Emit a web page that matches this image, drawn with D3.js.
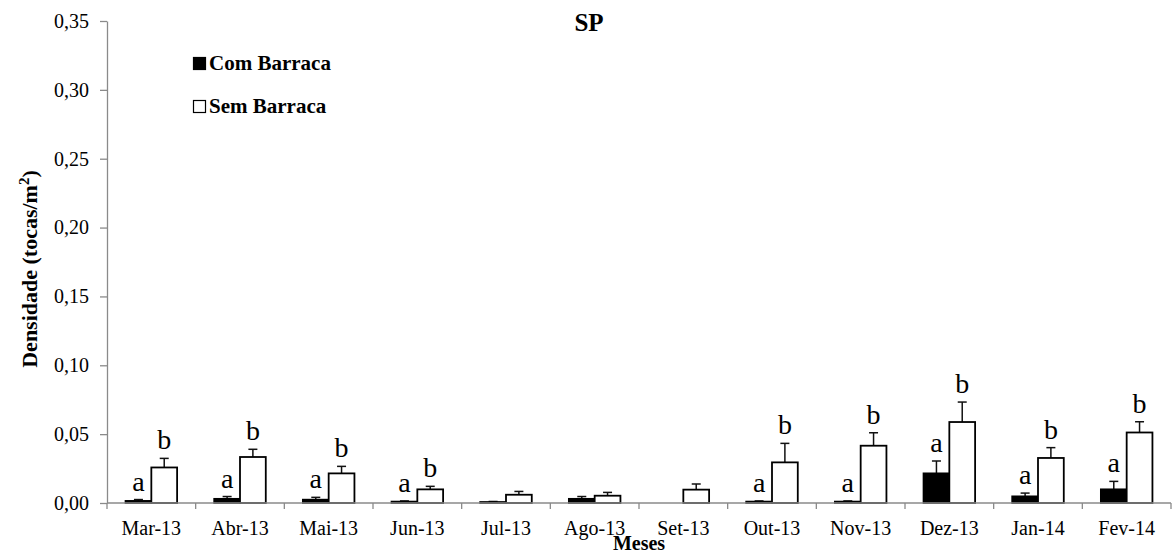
<!DOCTYPE html>
<html>
<head>
<meta charset="utf-8">
<script src="https://cdn.jsdelivr.net/npm/d3@7"></script>
<style>
	body { margin: 0; background: white; }
	text { font-family: "Liberation Serif", "Times New Roman", serif; }
</style>
</head>
<body>
<svg id="chart" width="1173" height="556"></svg>
<script>
var MONTHS = ["Mar-13", "Abr-13", "Mai-13", "Jun-13", "Jul-13", "Ago-13", "Set-13", "Out-13", "Nov-13", "Dez-13", "Jan-14", "Fev-14"];
var COM = [0.0015, 0.003, 0.0024, 0.001, 0.0007, 0.003, 0, 0.001, 0.001, 0.0215, 0.0048, 0.0099];
var COM_ERR = [0.001, 0.0017, 0.0017, 0.0005, 0.0004, 0.0017, 0, 0.0005, 0.0005, 0.009, 0.0024, 0.0058];
var SEM = [0.0258, 0.0334, 0.0215, 0.0099, 0.006, 0.0053, 0.0097, 0.0295, 0.0416, 0.0588, 0.0327, 0.0512];
var SEM_ERR = [0.0066, 0.0056, 0.0051, 0.0022, 0.0024, 0.0024, 0.0041, 0.0138, 0.0094, 0.0145, 0.0075, 0.0078];
var LETTER_COM = ["a", "a", "a", "a", "", "", "", "a", "a", "a", "a", "a"];
var LETTER_SEM = ["b", "b", "b", "b", "", "", "", "b", "b", "b", "b", "b"];
var Y_TICKS = [0, 0.05, 0.10, 0.15, 0.20, 0.25, 0.30, 0.35];
var SERIES = ["Com Barraca", "Sem Barraca"];

var svg = d3.select("#chart");
var axisColor = "#8a8a8a";

var y = d3.scaleLinear().domain([0, 0.35]).range([503, 21]);
var x = d3.scaleBand().domain(MONTHS).range([107, 1171]).padding(0);
var x1 = d3.scaleBand().domain(SERIES).range([0, x.bandwidth()]).paddingInner(0).paddingOuter(0.72);

var comma = function(d) { return d3.format(".2f")(d).replace(".", ","); };

// y axis
var yAxis = svg.append("g")
	.attr("transform", "translate(107,0)")
	.call(d3.axisLeft(y).tickValues(Y_TICKS).tickFormat(comma).tickSize(7).tickSizeOuter(0).tickPadding(11));
yAxis.select(".domain").attr("stroke", axisColor).attr("stroke-width", 1.3);
yAxis.selectAll(".tick line").attr("stroke", axisColor).attr("stroke-width", 1.3);
yAxis.selectAll(".tick text")
	.attr("font-family", "Liberation Serif")
	.attr("font-size", 20)
	.attr("fill", "black");

// bars
var rows = MONTHS.map(function(m, i) {
	return [
		{ month: m, s: SERIES[0], v: COM[i], e: COM_ERR[i], l: LETTER_COM[i], fill: "black" },
		{ month: m, s: SERIES[1], v: SEM[i], e: SEM_ERR[i], l: LETTER_SEM[i], fill: "white" }
	];
});
var flat = [].concat.apply([], rows);

var g = svg.append("g");

// error bars (up only)
var eb = g.selectAll(".err").data(flat.filter(function(d) { return d.v > 0; })).enter().append("g").attr("class", "err");
eb.append("line")
	.attr("x1", function(d) { return x(d.month) + x1(d.s) + x1.bandwidth()/2; })
	.attr("x2", function(d) { return x(d.month) + x1(d.s) + x1.bandwidth()/2; })
	.attr("y1", function(d) { return y(d.v); })
	.attr("y2", function(d) { return y(d.v + d.e); })
	.attr("stroke", "#111").attr("stroke-width", 1.5);
eb.append("line")
	.attr("x1", function(d) { return x(d.month) + x1(d.s) + x1.bandwidth()/2 - 4.5; })
	.attr("x2", function(d) { return x(d.month) + x1(d.s) + x1.bandwidth()/2 + 4.5; })
	.attr("y1", function(d) { return y(d.v + d.e); })
	.attr("y2", function(d) { return y(d.v + d.e); })
	.attr("stroke", "#111").attr("stroke-width", 1.5);

g.selectAll(".bar").data(flat).enter().append("rect")
	.attr("class", "bar")
	.attr("x", function(d) { return x(d.month) + x1(d.s); })
	.attr("y", function(d) { return y(d.v); })
	.attr("width", x1.bandwidth())
	.attr("height", function(d) { return y(0) - y(d.v); })
	.attr("fill", function(d) { return d.fill; })
	.attr("stroke", function(d) { return d.v > 0 ? "black" : "none"; })
	.attr("stroke-width", 1.8);

// significance letters
g.selectAll(".letter").data(flat.filter(function(d) { return d.l; })).enter().append("text")
	.attr("class", "letter")
	.attr("x", function(d) { return x(d.month) + x1(d.s) + x1.bandwidth()/2; })
	.attr("y", function(d) { return y(d.v + d.e) - 9; })
	.attr("text-anchor", "middle")
	.attr("font-size", 28)
	.attr("fill", "black")
	.text(function(d) { return d.l; });

// x axis
var xAxis = svg.append("g").attr("transform", "translate(0,503)");
xAxis.append("line")
	.attr("x1", 107).attr("x2", 1171)
	.attr("stroke", axisColor).attr("stroke-width", 1.3);
xAxis.selectAll(".xt").data(MONTHS.concat(["end"])).enter().append("line")
	.attr("x1", function(d, i) { return 107 + i * x.step(); })
	.attr("x2", function(d, i) { return 107 + i * x.step(); })
	.attr("y1", 0).attr("y2", 6)
	.attr("stroke", axisColor).attr("stroke-width", 1.3);
xAxis.selectAll(".xl").data(MONTHS).enter().append("text")
	.attr("x", function(d) { return x(d) + x.bandwidth()/2; })
	.attr("y", 32)
	.attr("text-anchor", "middle")
	.attr("font-size", 20)
	.text(function(d) { return d; });

// axis titles
svg.append("text")
	.attr("x", 639).attr("y", 550)
	.attr("text-anchor", "middle")
	.attr("font-size", 20).attr("font-weight", "bold")
	.text("Meses");

var yt = svg.append("text")
	.attr("transform", "translate(37,269) rotate(-90)")
	.attr("text-anchor", "middle")
	.attr("font-size", 22).attr("font-weight", "bold");
yt.append("tspan").text("Densidade (tocas/m");
yt.append("tspan").attr("font-size", 15).attr("dy", -8).text("2");
yt.append("tspan").attr("dy", 8).text(")");

// title
svg.append("text")
	.attr("x", 589).attr("y", 31)
	.attr("text-anchor", "middle")
	.attr("font-size", 25).attr("font-weight", "bold")
	.text("SP");

// legend
var lg = svg.selectAll(".lg").data(SERIES).enter().append("g").attr("class", "lg")
	.attr("transform", function(d, i) { return "translate(193," + (57 + i * 43) + ")"; });
lg.append("rect")
	.attr("x", 0.5).attr("y", 0.5)
	.attr("width", 12).attr("height", 12)
	.attr("fill", function(d, i) { return i === 0 ? "black" : "white"; })
	.attr("stroke", "black").attr("stroke-width", 1.2);
lg.append("text")
	.attr("x", 16).attr("y", 13)
	.attr("font-size", 21).attr("font-weight", "bold")
	.text(function(d) { return d; });
</script>
</body>
</html>
